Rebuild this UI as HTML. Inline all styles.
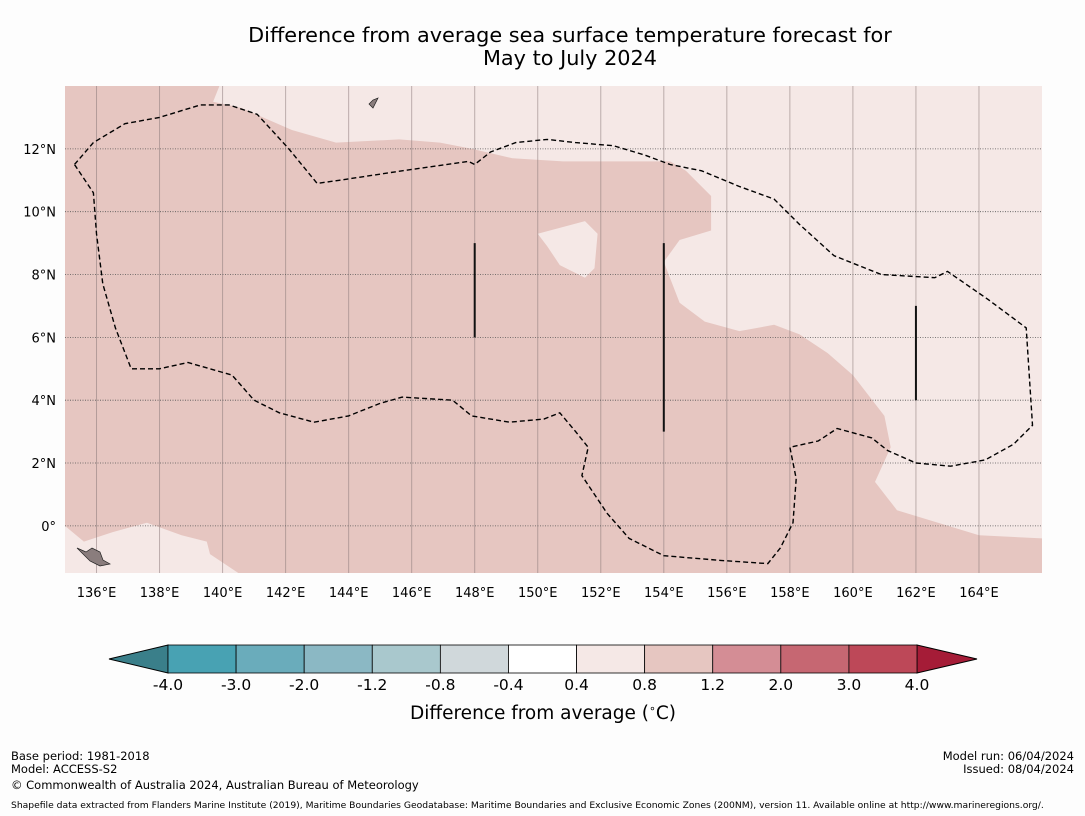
<!DOCTYPE html>
<html><head><meta charset="utf-8">
<style>
body{margin:0;background:#fdfdfd;width:1085px;height:816px;overflow:hidden;font-family:"Liberation Sans","DejaVu Sans",sans-serif;}
svg{position:absolute;left:0;top:0}
</style></head><body>
<svg width="1085" height="816" xmlns="http://www.w3.org/2000/svg">
<text x="570" y="42" text-anchor="middle" font-size="20.8" font-family="DejaVu Sans,sans-serif">Difference from average sea surface temperature forecast for</text>
<text x="570" y="65" text-anchor="middle" font-size="20.8" font-family="DejaVu Sans,sans-serif">May to July 2024</text>
<g id="map"></g>
<g id="cbar"></g>
<text x="543" y="719" text-anchor="middle" font-size="18.5" font-family="DejaVu Sans,sans-serif">Difference from average (<tspan font-size="11" dy="-7">∘</tspan><tspan dy="7">C)</tspan></text>
<g font-size="11.5" font-family="DejaVu Sans,sans-serif">
<text x="11" y="760">Base period: 1981-2018</text>
<text x="11" y="773">Model: ACCESS-S2</text>
<text x="11" y="789">© Commonwealth of Australia 2024, Australian Bureau of Meteorology</text>
<text x="1074" y="760" text-anchor="end">Model run: 06/04/2024</text>
<text x="1074" y="773" text-anchor="end">Issued: 08/04/2024</text>
<text x="11" y="808" font-size="9.2">Shapefile data extracted from Flanders Marine Institute (2019), Maritime Boundaries Geodatabase: Maritime Boundaries and Exclusive Economic Zones (200NM), version 11. Available online at http://www.marineregions.org/.</text>
</g>
</svg>
<script>
const lonTicks=[136,138,140,142,144,146,148,150,152,154,156,158,160,162,164];
const latTicks=[0,2,4,6,8,10,12];
const cbLevels=[-4.0,-3.0,-2.0,-1.2,-0.8,-0.4,0.4,0.8,1.2,2.0,3.0,4.0];
const cbColors=["#48a2b3","#6aacbb","#8bb8c4","#a9c8cd","#d0d8db","#ffffff","#f5e8e6","#e6c6c1","#d48d95","#c66772","#bd4858"];
const cbExtendColors=["#3a7f8a","#a51c37"];
const lon0=135,lon1=166,lat0=-1.5,lat1=14;
const warmRegion=[[139.9,14],[139.7,13.5],[140.6,13.3],[142.2,12.6],[143.6,12.2],[145.6,12.3],[146.9,12.2],[147.9,12.0],[149.2,11.7],[150.8,11.6],[152.7,11.6],[154.2,11.6],[154.7,11.3],[155.5,10.5],[155.5,9.4],[154.5,9.1],[154.0,8.4],[154.5,7.1],[155.3,6.5],[156.4,6.2],[157.5,6.4],[158.3,6.1],[159.2,5.5],[160.0,4.8],[161.0,3.5],[161.2,2.5],[160.7,1.4],[161.4,0.5],[162.7,0.1],[164.0,-0.3],[166,-0.4],[166,-1.5],[140.5,-1.5],[139.6,-0.9],[139.5,-0.5],[138.7,-0.3],[137.6,0.1],[136.5,-0.2],[135.6,-0.5],[135,0],[135,14]];
const coolIsland=[[150.0,9.3],[151.5,9.7],[151.9,9.3],[151.8,8.2],[151.5,7.9],[150.7,8.3],[150.3,8.9]];
const eezLine=[[135.3,11.5],[135.9,12.2],[136.9,12.8],[138,13.0],[139.3,13.4],[140.2,13.4],[141.1,13.1],[142.1,12.0],[143.0,10.9],[143.7,11.0],[145.7,11.3],[147.8,11.6],[148.0,11.5],[148.5,11.9],[149.3,12.2],[150.3,12.3],[151.2,12.2],[152.4,12.1],[153.4,11.8],[154.2,11.5],[155.2,11.3],[156.4,10.8],[157.5,10.4],[158.3,9.6],[159.4,8.6],[160.9,8.0],[162.6,7.9],[163.0,8.1],[164.3,7.2],[165.5,6.3],[165.7,3.2],[165.1,2.6],[164.2,2.1],[163.1,1.9],[162.0,2.0],[161.1,2.4],[160.6,2.8],[159.5,3.1],[158.9,2.7],[158.0,2.5],[158.2,1.5],[158.1,0.1],[157.7,-0.7],[157.3,-1.2],[155.8,-1.1],[154.0,-0.95],[152.9,-0.4],[152.2,0.4],[151.4,1.6],[151.6,2.5],[151.2,3.0],[150.7,3.6],[150.2,3.4],[149.1,3.3],[147.9,3.5],[147.3,4.0],[145.7,4.1],[145.0,3.9],[144.0,3.5],[142.9,3.3],[141.8,3.6],[141.0,4.0],[140.3,4.8],[138.9,5.2],[138.0,5.0],[137.1,5.0],[136.6,6.3],[136.2,7.7],[136.0,9.3],[135.9,10.6],[135.3,11.5]];
const blackBars=[[148,6,9],[154,3,9],[162,4,7]];
const ML=65,MR=1042,MT=86,MB=573;
const xS=l=>ML+(l-lon0)/(lon1-lon0)*(MR-ML);
const yS=l=>MT+(lat1-l)/(lat1-lat0)*(MB-MT);
const NS="http://www.w3.org/2000/svg";
function mk(t,a,p){const e=document.createElementNS(NS,t);for(const k in a)e.setAttribute(k,a[k]);p.appendChild(e);return e;}
const pts=a=>a.map(p=>xS(p[0]).toFixed(1)+","+yS(p[1]).toFixed(1)).join(" ");
const map=document.getElementById("map");
const bg=mk("rect",{x:ML,y:MT,width:MR-ML,height:MB-MT,fill:"#f5e8e6"},map);


const wr=mk("polygon",{points:pts(warmRegion),fill:"#e6c6c1"},map);


const ci=mk("polygon",{points:pts(coolIsland),fill:"#f5e8e6"},map);


lonTicks.forEach(l=>{
 const g=mk("line",{x1:xS(l),x2:xS(l),y1:MT,y2:MB,stroke:"#8a7a7a","stroke-opacity":0.55,"stroke-width":1},map);
 
 
 const t=mk("text",{x:xS(l),y:597,"text-anchor":"middle","font-size":13,"font-family":"DejaVu Sans,sans-serif"},map);
 t.textContent=l+"°E";
 
 
});
latTicks.forEach(l=>{
 const g=mk("line",{x1:ML,x2:MR,y1:yS(l),y2:yS(l),stroke:"#555","stroke-width":0.8,"stroke-dasharray":"1,1.5"},map);
 
 
 const t=mk("text",{x:56,y:yS(l)+5,"text-anchor":"end","font-size":13,"font-family":"DejaVu Sans,sans-serif"},map);
 t.textContent=l===0?"0°":l+"°N";
 
 
});
const ez=mk("polyline",{points:pts(eezLine),fill:"none",stroke:"#000","stroke-width":1.4,"stroke-dasharray":"5,3"},map);


blackBars.forEach(b=>{
 const l=mk("line",{x1:xS(b[0]),x2:xS(b[0]),y1:yS(b[2]),y2:yS(b[1]),stroke:"#111","stroke-width":2},map);
 
 
});
const isl=mk("polygon",{points:"77,548 86,552 92,548 100,552 103,560 110,564 100,566 90,561 82,553",fill:"#8a7d7d",stroke:"#222","stroke-width":0.7},map);


const isl2=mk("polygon",{points:"369,104 373,100 378,98 373,108",fill:"#8a7d7d",stroke:"#222","stroke-width":0.7},map);


const cb=document.getElementById("cbar");
const cx0=168,cx1=917,cy=645,ch=28;
const cw=(cx1-cx0)/cbColors.length;
const lt=mk("polygon",{points:`${cx0},${cy} ${cx0},${cy+ch} 109,${cy+ch/2}`,fill:cbExtendColors[0],stroke:"#000","stroke-width":1},cb);


const rt=mk("polygon",{points:`${cx1},${cy} ${cx1},${cy+ch} 977,${cy+ch/2}`,fill:cbExtendColors[1],stroke:"#000","stroke-width":1},cb);


cbColors.forEach((c,i)=>{
 const r=mk("rect",{x:cx0+i*cw,y:cy,width:cw,height:ch,fill:c,stroke:"#000","stroke-width":0.8},cb);
 
 
});
cbLevels.forEach((v,i)=>{
 const t=mk("text",{x:cx0+i*cw,y:690,"text-anchor":"middle","font-size":15.5,"font-family":"DejaVu Sans,sans-serif"},cb);
 t.textContent=v.toFixed(1);
 
 
});
</script>
</body></html>
